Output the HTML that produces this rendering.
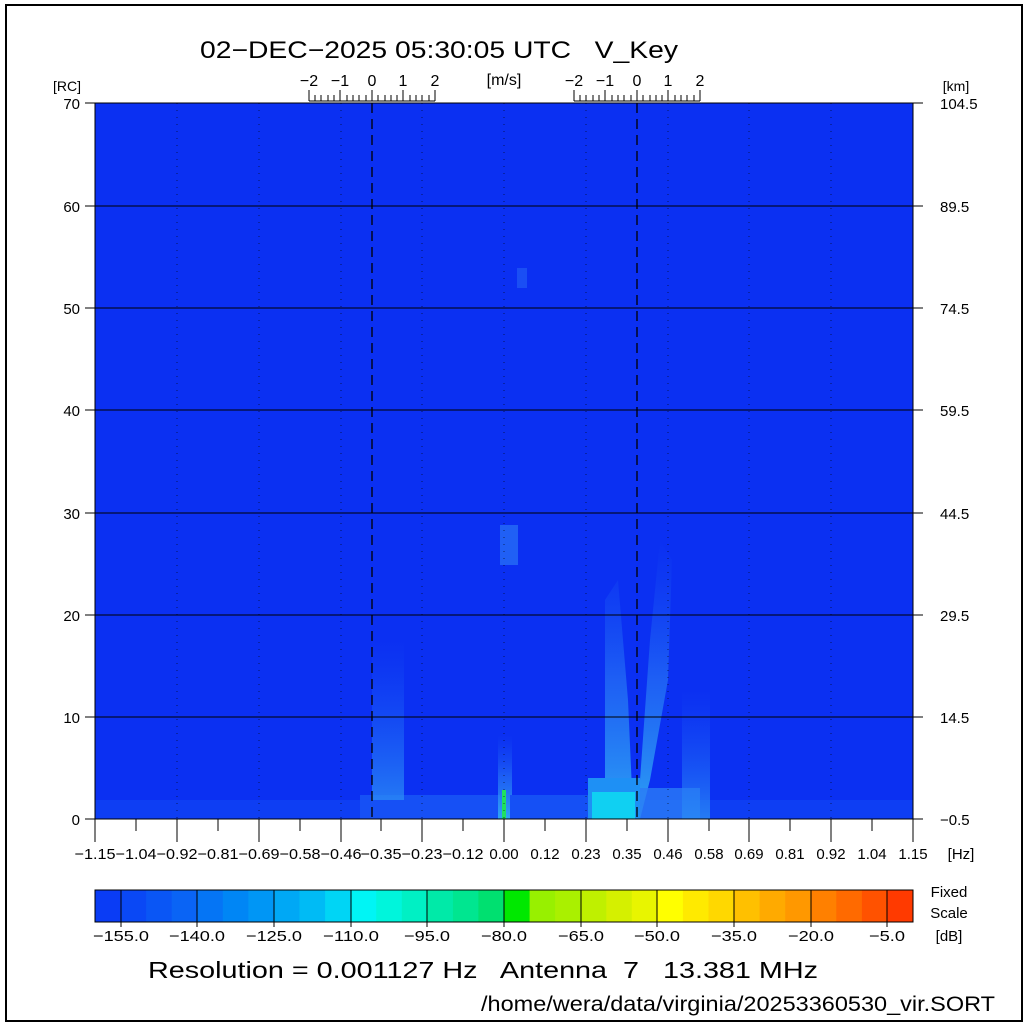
<!DOCTYPE html>
<html><head><meta charset="utf-8"><style>
html,body{margin:0;padding:0;background:#fff}
svg{display:block}
text{font-family:"Liberation Sans",sans-serif;fill:#000;white-space:pre}
</style></head><body>
<svg width="1030" height="1025" viewBox="0 0 1030 1025" xmlns="http://www.w3.org/2000/svg" xml:space="preserve">
<rect x="0" y="0" width="1030" height="1025" fill="#fff"/>
<rect x="6" y="5" width="1016" height="1016" fill="none" stroke="#000" stroke-width="2"/>
<text x="439" y="58" font-size="24" text-anchor="middle" textLength="478" lengthAdjust="spacingAndGlyphs">02−DEC−2025 05:30:05 UTC   V_Key</text>
<text x="67" y="91" font-size="14" text-anchor="middle">[RC]</text>
<text x="956" y="91" font-size="14" text-anchor="middle">[km]</text>
<text x="504" y="85" font-size="16" text-anchor="middle">[m/s]</text>
<defs>
<linearGradient id="pl" x1="0" y1="1" x2="0" y2="0"><stop offset="0" stop-color="#2a8af5" stop-opacity="0.8"/><stop offset="1" stop-color="#1a5cf5" stop-opacity="0"/></linearGradient>
<linearGradient id="pl2" x1="0" y1="1" x2="0" y2="0"><stop offset="0" stop-color="#30b0f5" stop-opacity="0.9"/><stop offset="0.5" stop-color="#2a7ef5" stop-opacity="0.6"/><stop offset="1" stop-color="#1a5cf5" stop-opacity="0"/></linearGradient>
</defs>
<!-- plot -->
<rect x="95" y="103" width="818" height="716" fill="#0b30f2"/>
<rect x="95" y="800" width="818" height="19" fill="#0e3ef3"/>
<rect x="360" y="795" width="140" height="24" fill="#1650f5"/>
<rect x="372" y="640" width="32" height="160" fill="url(#pl)"/>
<rect x="498" y="735" width="14" height="84" fill="url(#pl2)"/>
<rect x="502" y="790" width="4" height="29" fill="#20e060"/>
<rect x="500" y="525" width="18" height="40" fill="#2060f5"/>
<rect x="517" y="268" width="10" height="20" fill="#1a4ef4"/>
<rect x="510" y="795" width="80" height="24" fill="#1550f5"/>
<polygon points="605,819 605,600 618,580 628,700 632,790 640,780 650,640 660,540 672,560 668,680 650,780 640,819" fill="url(#pl2)"/>
<rect x="588" y="778" width="52" height="41" fill="#1e90f5"/>
<rect x="592" y="792" width="43" height="27" fill="#10d0f2"/>
<rect x="640" y="788" width="60" height="31" fill="#2a7cf5" opacity="0.8"/>
<rect x="682" y="690" width="28" height="129" fill="url(#pl)"/>
<!-- grid -->
<g stroke="#000" stroke-width="1">
<line x1="95" y1="206" x2="913" y2="206"/><line x1="95" y1="308" x2="913" y2="308"/>
<line x1="95" y1="410" x2="913" y2="410"/><line x1="95" y1="513" x2="913" y2="513"/>
<line x1="95" y1="615" x2="913" y2="615"/><line x1="95" y1="717" x2="913" y2="717"/>
</g>
<g stroke="#000" stroke-width="1" stroke-dasharray="1,6" opacity="0.6">
<line x1="177" y1="103" x2="177" y2="819"/><line x1="259" y1="103" x2="259" y2="819"/>
<line x1="341" y1="103" x2="341" y2="819"/><line x1="422" y1="103" x2="422" y2="819"/>
<line x1="504" y1="103" x2="504" y2="819"/><line x1="586" y1="103" x2="586" y2="819"/>
<line x1="668" y1="103" x2="668" y2="819"/><line x1="749" y1="103" x2="749" y2="819"/>
<line x1="831" y1="103" x2="831" y2="819"/>
</g>
<g stroke="#000" stroke-width="1.3" stroke-dasharray="10,6">
<line x1="372" y1="103" x2="372" y2="819"/><line x1="637" y1="103" x2="637" y2="819"/>
</g>
<rect x="95" y="103" width="818" height="716" fill="none" stroke="#000" stroke-width="1"/>
<!-- y ticks -->
<g stroke="#000">
<line x1="85" y1="103" x2="95" y2="103"/><line x1="85" y1="206" x2="95" y2="206"/><line x1="85" y1="308" x2="95" y2="308"/><line x1="85" y1="410" x2="95" y2="410"/><line x1="85" y1="513" x2="95" y2="513"/><line x1="85" y1="615" x2="95" y2="615"/><line x1="85" y1="717" x2="95" y2="717"/><line x1="85" y1="819" x2="95" y2="819"/>
<line x1="913" y1="103" x2="923" y2="103"/><line x1="913" y1="206" x2="923" y2="206"/><line x1="913" y1="308" x2="923" y2="308"/><line x1="913" y1="410" x2="923" y2="410"/><line x1="913" y1="513" x2="923" y2="513"/><line x1="913" y1="615" x2="923" y2="615"/><line x1="913" y1="717" x2="923" y2="717"/><line x1="913" y1="819" x2="923" y2="819"/>
</g>
<g font-size="15" text-anchor="end">
<text x="80" y="109">70</text><text x="80" y="212">60</text><text x="80" y="314">50</text><text x="80" y="416">40</text><text x="80" y="519">30</text><text x="80" y="621">20</text><text x="80" y="723">10</text><text x="80" y="825">0</text>
</g>
<g font-size="15" text-anchor="start">
<text x="940" y="109">104.5</text><text x="940" y="212">89.5</text><text x="940" y="314">74.5</text><text x="940" y="416">59.5</text><text x="940" y="519">44.5</text><text x="940" y="621">29.5</text><text x="940" y="723">14.5</text><text x="940" y="825">−0.5</text>
</g>
<!-- x ticks -->
<g stroke="#000">
<line x1="95" y1="819" x2="95" y2="842"/><line x1="136" y1="819" x2="136" y2="831"/><line x1="177" y1="819" x2="177" y2="842"/><line x1="218" y1="819" x2="218" y2="831"/><line x1="259" y1="819" x2="259" y2="842"/><line x1="300" y1="819" x2="300" y2="831"/><line x1="341" y1="819" x2="341" y2="842"/><line x1="381" y1="819" x2="381" y2="831"/><line x1="422" y1="819" x2="422" y2="842"/><line x1="463" y1="819" x2="463" y2="831"/><line x1="504" y1="819" x2="504" y2="842"/><line x1="545" y1="819" x2="545" y2="831"/><line x1="586" y1="819" x2="586" y2="842"/><line x1="627" y1="819" x2="627" y2="831"/><line x1="668" y1="819" x2="668" y2="842"/><line x1="709" y1="819" x2="709" y2="831"/><line x1="749" y1="819" x2="749" y2="842"/><line x1="790" y1="819" x2="790" y2="831"/><line x1="831" y1="819" x2="831" y2="842"/><line x1="872" y1="819" x2="872" y2="831"/><line x1="913" y1="819" x2="913" y2="842"/>
</g>
<g font-size="15" text-anchor="middle">
<text x="95" y="859" textLength="41" lengthAdjust="spacingAndGlyphs">−1.15</text><text x="136" y="859" textLength="41" lengthAdjust="spacingAndGlyphs">−1.04</text><text x="177" y="859" textLength="41" lengthAdjust="spacingAndGlyphs">−0.92</text><text x="218" y="859" textLength="41" lengthAdjust="spacingAndGlyphs">−0.81</text><text x="259" y="859" textLength="41" lengthAdjust="spacingAndGlyphs">−0.69</text><text x="300" y="859" textLength="41" lengthAdjust="spacingAndGlyphs">−0.58</text><text x="341" y="859" textLength="41" lengthAdjust="spacingAndGlyphs">−0.46</text><text x="381" y="859" textLength="41" lengthAdjust="spacingAndGlyphs">−0.35</text><text x="422" y="859" textLength="41" lengthAdjust="spacingAndGlyphs">−0.23</text><text x="463" y="859" textLength="41" lengthAdjust="spacingAndGlyphs">−0.12</text><text x="504" y="859">0.00</text><text x="545" y="859">0.12</text><text x="586" y="859">0.23</text><text x="627" y="859">0.35</text><text x="668" y="859">0.46</text><text x="709" y="859">0.58</text><text x="749" y="859">0.69</text><text x="790" y="859">0.81</text><text x="831" y="859">0.92</text><text x="872" y="859">1.04</text><text x="913" y="859">1.15</text>
<text x="961" y="859">[Hz]</text>
</g>
<!-- m/s scales -->
<g stroke="#000">
<line x1="309" y1="101" x2="435" y2="101"/>
<line x1="309" y1="90" x2="309" y2="101"/><line x1="315" y1="95" x2="315" y2="101"/><line x1="321" y1="95" x2="321" y2="101"/><line x1="328" y1="95" x2="328" y2="101"/><line x1="334" y1="95" x2="334" y2="101"/><line x1="340" y1="90" x2="340" y2="101"/><line x1="347" y1="95" x2="347" y2="101"/><line x1="353" y1="95" x2="353" y2="101"/><line x1="359" y1="95" x2="359" y2="101"/><line x1="366" y1="95" x2="366" y2="101"/><line x1="372" y1="90" x2="372" y2="101"/><line x1="378" y1="95" x2="378" y2="101"/><line x1="385" y1="95" x2="385" y2="101"/><line x1="391" y1="95" x2="391" y2="101"/><line x1="397" y1="95" x2="397" y2="101"/><line x1="403" y1="90" x2="403" y2="101"/><line x1="410" y1="95" x2="410" y2="101"/><line x1="416" y1="95" x2="416" y2="101"/><line x1="422" y1="95" x2="422" y2="101"/><line x1="429" y1="95" x2="429" y2="101"/><line x1="435" y1="90" x2="435" y2="101"/>
<line x1="574" y1="101" x2="700" y2="101"/>
<line x1="574" y1="90" x2="574" y2="101"/><line x1="580" y1="95" x2="580" y2="101"/><line x1="586" y1="95" x2="586" y2="101"/><line x1="593" y1="95" x2="593" y2="101"/><line x1="599" y1="95" x2="599" y2="101"/><line x1="605" y1="90" x2="605" y2="101"/><line x1="612" y1="95" x2="612" y2="101"/><line x1="618" y1="95" x2="618" y2="101"/><line x1="624" y1="95" x2="624" y2="101"/><line x1="631" y1="95" x2="631" y2="101"/><line x1="637" y1="90" x2="637" y2="101"/><line x1="643" y1="95" x2="643" y2="101"/><line x1="650" y1="95" x2="650" y2="101"/><line x1="656" y1="95" x2="656" y2="101"/><line x1="662" y1="95" x2="662" y2="101"/><line x1="668" y1="90" x2="668" y2="101"/><line x1="675" y1="95" x2="675" y2="101"/><line x1="681" y1="95" x2="681" y2="101"/><line x1="687" y1="95" x2="687" y2="101"/><line x1="694" y1="95" x2="694" y2="101"/><line x1="700" y1="90" x2="700" y2="101"/>
</g>
<g font-size="16" text-anchor="middle">
<text x="309" y="86">−2</text><text x="340" y="86">−1</text><text x="372" y="86">0</text><text x="403" y="86">1</text><text x="435" y="86">2</text>
<text x="574" y="86">−2</text><text x="605" y="86">−1</text><text x="637" y="86">0</text><text x="668" y="86">1</text><text x="700" y="86">2</text>
</g>
<!-- colorbar -->
<g>
<rect x="95.0" y="890" width="26" height="32" fill="#0a3cf5"/>
<rect x="120.6" y="890" width="26" height="32" fill="#0a48f5"/>
<rect x="146.1" y="890" width="26" height="32" fill="#0a56f5"/>
<rect x="171.7" y="890" width="26" height="32" fill="#0a64f5"/>
<rect x="197.3" y="890" width="26" height="32" fill="#0575f5"/>
<rect x="222.8" y="890" width="26" height="32" fill="#0086f5"/>
<rect x="248.4" y="890" width="26" height="32" fill="#0096f5"/>
<rect x="273.9" y="890" width="26" height="32" fill="#00a8f5"/>
<rect x="299.5" y="890" width="26" height="32" fill="#00bbf5"/>
<rect x="325.1" y="890" width="26" height="32" fill="#00d5f5"/>
<rect x="350.6" y="890" width="26" height="32" fill="#00f5f5"/>
<rect x="376.2" y="890" width="26" height="32" fill="#00f5dc"/>
<rect x="401.8" y="890" width="26" height="32" fill="#00f0c4"/>
<rect x="427.3" y="890" width="26" height="32" fill="#00eaa8"/>
<rect x="452.9" y="890" width="26" height="32" fill="#00e690"/>
<rect x="478.4" y="890" width="26" height="32" fill="#00e070"/>
<rect x="504.0" y="890" width="26" height="32" fill="#00e800"/>
<rect x="529.6" y="890" width="26" height="32" fill="#98f000"/>
<rect x="555.1" y="890" width="26" height="32" fill="#aaf000"/>
<rect x="580.7" y="890" width="26" height="32" fill="#bff000"/>
<rect x="606.3" y="890" width="26" height="32" fill="#d5f000"/>
<rect x="631.8" y="890" width="26" height="32" fill="#e8f500"/>
<rect x="657.4" y="890" width="26" height="32" fill="#ffff00"/>
<rect x="682.9" y="890" width="26" height="32" fill="#ffea00"/>
<rect x="708.5" y="890" width="26" height="32" fill="#ffd800"/>
<rect x="734.1" y="890" width="26" height="32" fill="#ffc000"/>
<rect x="759.6" y="890" width="26" height="32" fill="#ffaa00"/>
<rect x="785.2" y="890" width="26" height="32" fill="#ff9800"/>
<rect x="810.8" y="890" width="26" height="32" fill="#ff8000"/>
<rect x="836.3" y="890" width="26" height="32" fill="#ff6a00"/>
<rect x="861.9" y="890" width="26" height="32" fill="#ff5200"/>
<rect x="887.4" y="890" width="25.6" height="32" fill="#ff3a00"/>
</g>
<rect x="95" y="890" width="818" height="32" fill="none" stroke="#000"/>
<g stroke="#000">
<line x1="121" y1="890" x2="121" y2="927"/><line x1="197" y1="890" x2="197" y2="927"/><line x1="274" y1="890" x2="274" y2="927"/><line x1="351" y1="890" x2="351" y2="927"/><line x1="427" y1="890" x2="427" y2="927"/><line x1="504" y1="890" x2="504" y2="927"/><line x1="581" y1="890" x2="581" y2="927"/><line x1="657" y1="890" x2="657" y2="927"/><line x1="734" y1="890" x2="734" y2="927"/><line x1="811" y1="890" x2="811" y2="927"/><line x1="887" y1="890" x2="887" y2="927"/>
</g>
<g font-size="15" text-anchor="middle">
<text x="121" y="941" textLength="56" lengthAdjust="spacingAndGlyphs">−155.0</text><text x="197" y="941" textLength="56" lengthAdjust="spacingAndGlyphs">−140.0</text><text x="274" y="941" textLength="56" lengthAdjust="spacingAndGlyphs">−125.0</text><text x="351" y="941" textLength="56" lengthAdjust="spacingAndGlyphs">−110.0</text><text x="427" y="941" textLength="46" lengthAdjust="spacingAndGlyphs">−95.0</text><text x="504" y="941" textLength="46" lengthAdjust="spacingAndGlyphs">−80.0</text><text x="581" y="941" textLength="46" lengthAdjust="spacingAndGlyphs">−65.0</text><text x="657" y="941" textLength="46" lengthAdjust="spacingAndGlyphs">−50.0</text><text x="734" y="941" textLength="46" lengthAdjust="spacingAndGlyphs">−35.0</text><text x="811" y="941" textLength="46" lengthAdjust="spacingAndGlyphs">−20.0</text><text x="887" y="941" textLength="36" lengthAdjust="spacingAndGlyphs">−5.0</text>
<text x="949" y="897">Fixed</text><text x="949" y="918">Scale</text><text x="949" y="941">[dB]</text>
</g>
<text x="483" y="978" font-size="23" text-anchor="middle" textLength="670" lengthAdjust="spacingAndGlyphs">Resolution = 0.001127 Hz   Antenna  7   13.381 MHz</text>
<text x="995" y="1011" font-size="21" text-anchor="end" textLength="514" lengthAdjust="spacingAndGlyphs">/home/wera/data/virginia/20253360530_vir.SORT</text>
</svg>
</body></html>
